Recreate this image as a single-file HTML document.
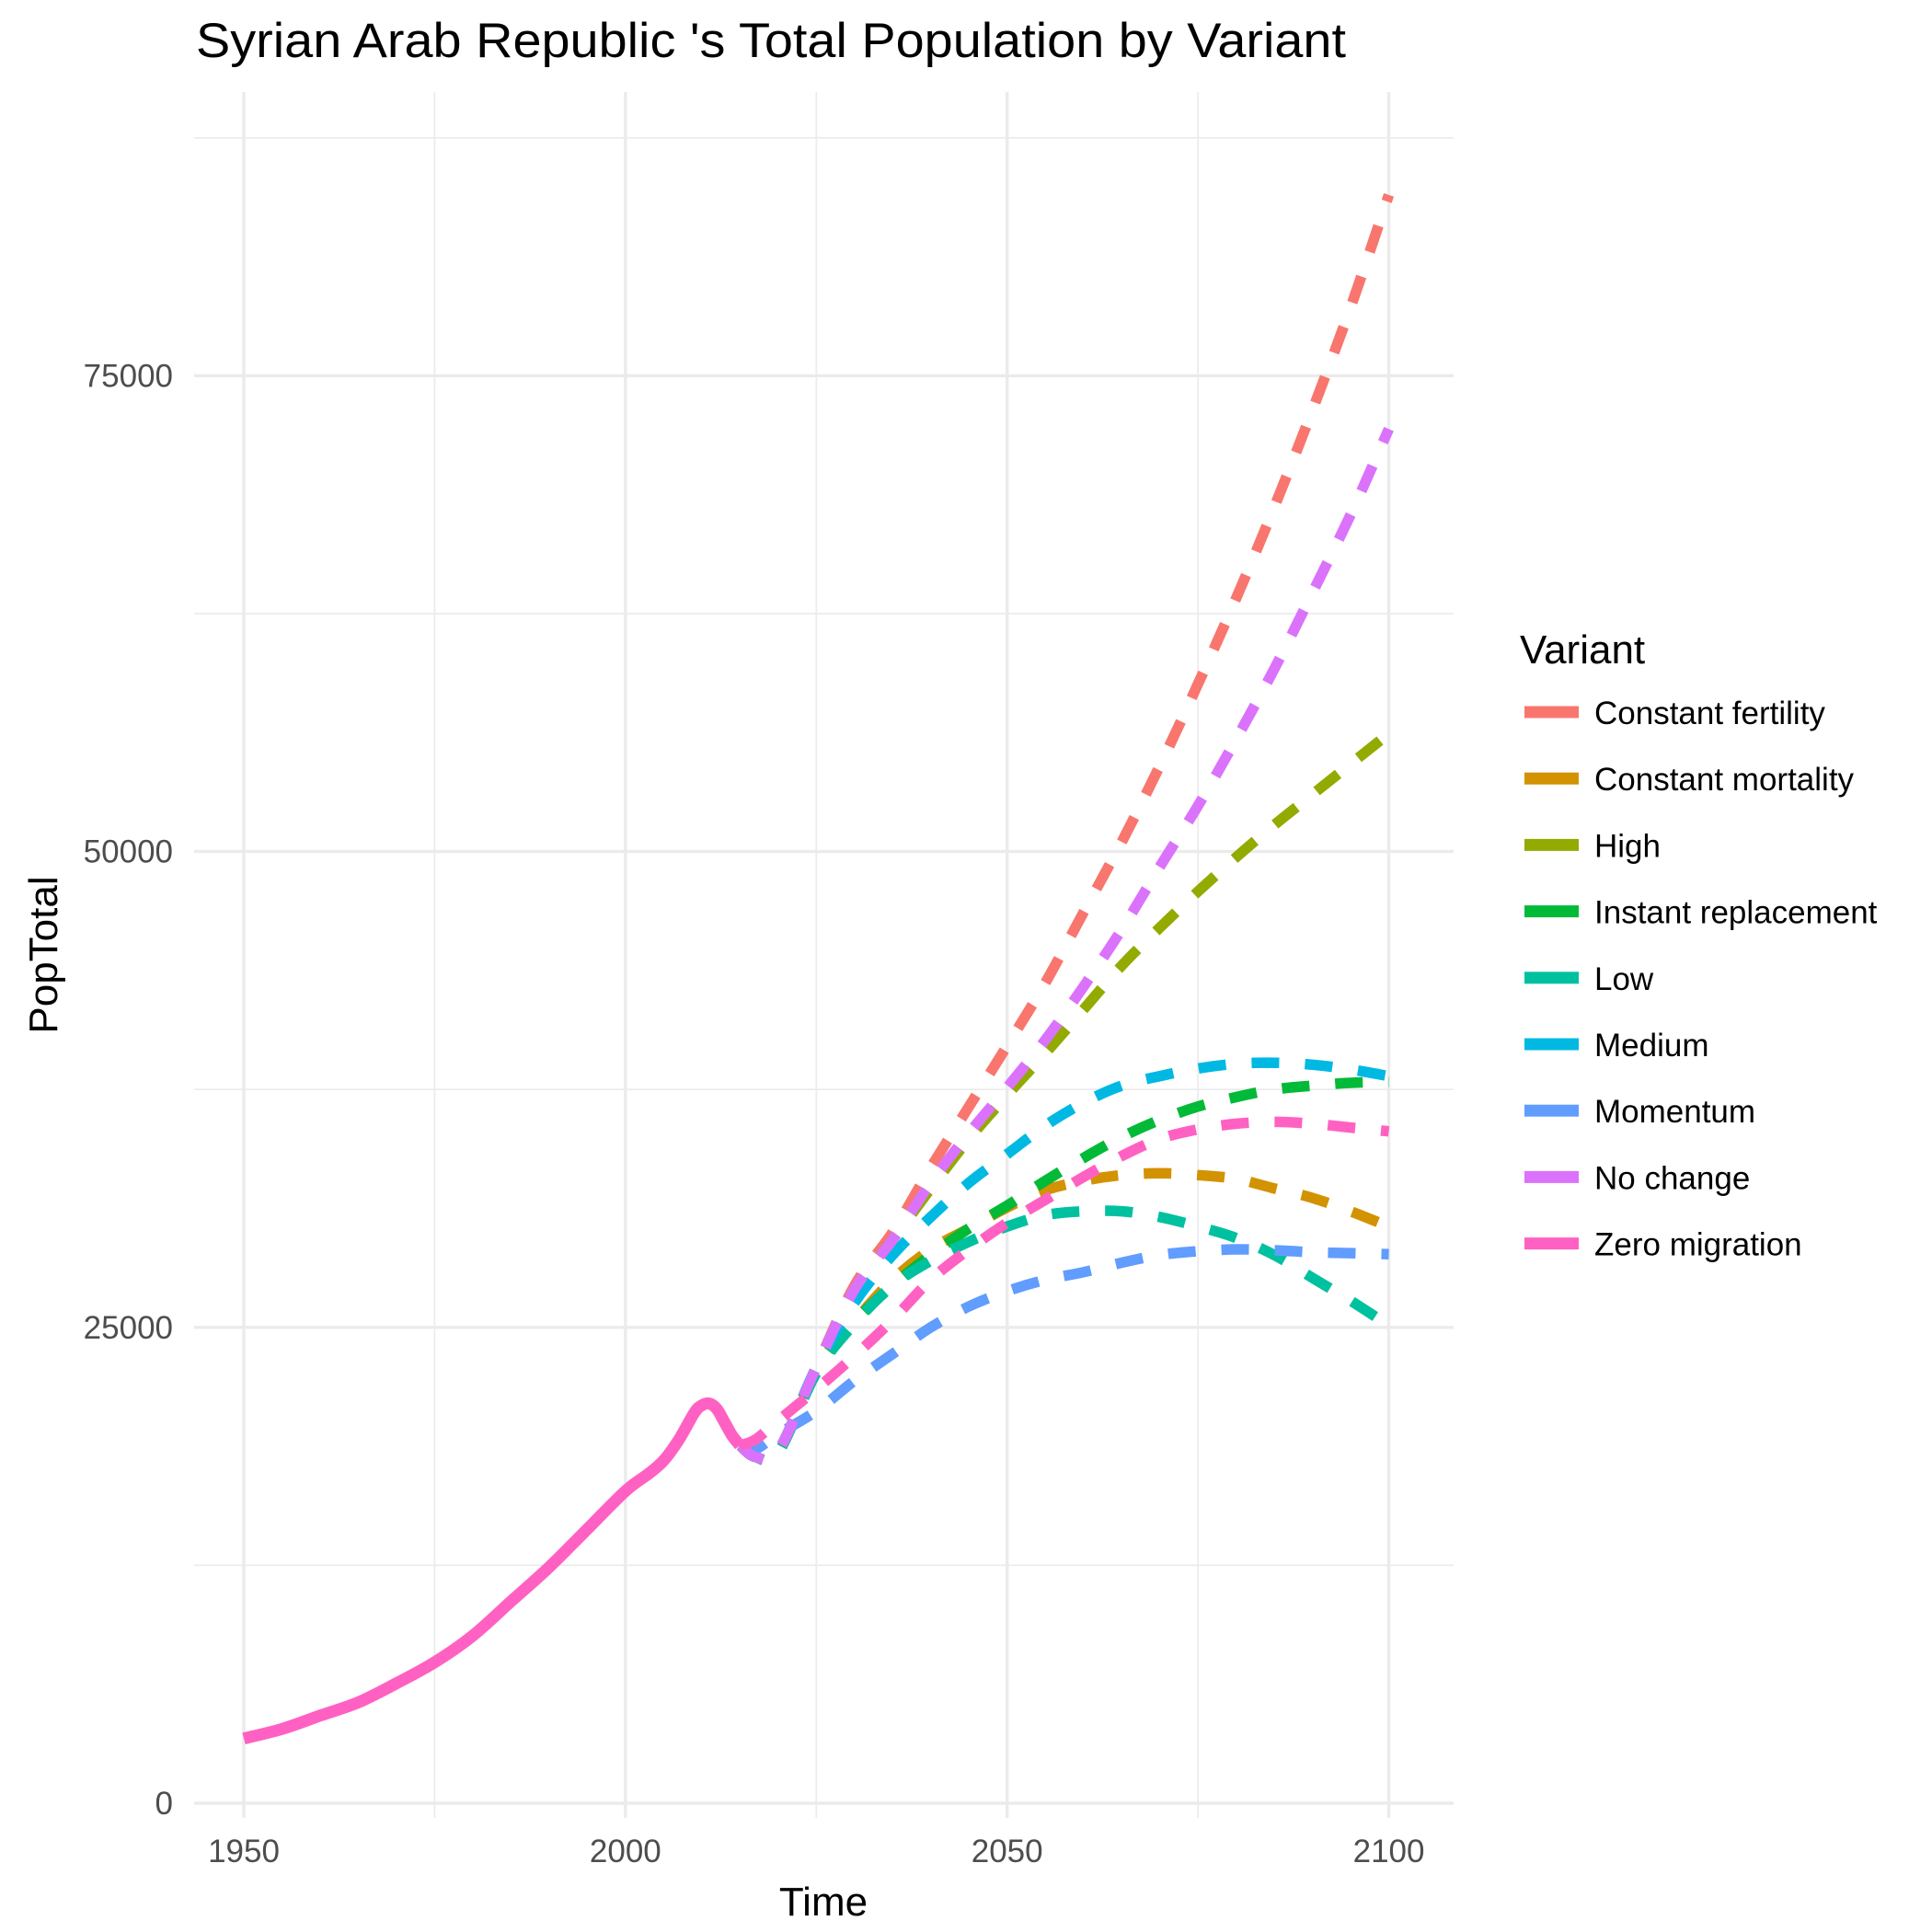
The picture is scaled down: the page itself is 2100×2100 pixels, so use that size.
<!DOCTYPE html>
<html><head><meta charset="utf-8"><style>
html,body{margin:0;padding:0;background:#fff}
svg{display:block;font-family:"Liberation Sans",Arial,sans-serif}
</style></head><body>
<svg id="chart" width="2100" height="2100" viewBox="0 0 2100 2100">
<rect x="0" y="0" width="2100" height="2100" fill="#fff"/>
<g id="grid"></g>
<g id="series"></g>
<g id="axes"></g>
<text x="213" y="62" font-size="53" fill="#000" textLength="1250" lengthAdjust="spacingAndGlyphs">Syrian Arab Republic 's Total Population by Variant</text>
<text x="895" y="2082" font-size="44" fill="#000" text-anchor="middle">Time</text>
<text x="0" y="0" font-size="44" fill="#000" text-anchor="middle" transform="translate(62,1038) rotate(-90)">PopTotal</text>
<g id="legend">
<text x="1652" y="721" font-size="44" fill="#000">Variant</text>
</g>
</svg>
<script>
const variants = ["Constant fertility","Constant mortality","High","Instant replacement","Low","Medium","Momentum","No change","Zero migration"];
const colors = ["#F8766D","#D39200","#93AA00","#00BA38","#00C19F","#00B9E3","#619CFF","#DB72FB","#FF61C3"];
const histYears = [1950,1955,1960,1965,1970,1975,1980,1985,1990,1995,2000,2003,2005,2007,2009,2010,2011,2012,2013,2014,2015];
const histValues = [3400,3900,4600,5300,6300,7400,8800,10600,12400,14400,16400,17300,18000,19100,20500,20900,21000,20700,20000,19300,18800];
const projYears = [2015,2017,2020,2025,2030,2035,2040,2045,2050,2055,2060,2065,2070,2075,2080,2085,2090,2095,2100];
const constantFertility = [18800,18200,18500,22900,27200,30000,33400,36600,39800,43100,46800,50500,54500,58800,63300,68100,73200,78600,84500];
const constantMortality = [18800,18200,18400,22700,25300,27500,29100,30200,31300,32200,32700,33000,33100,33000,32800,32300,31800,31100,30300];
const high = [18800,18200,18500,22900,27000,29600,32300,34900,37200,39400,41700,44000,46000,47900,49700,51400,53000,54600,56200];
const instantReplacement = [18800,18200,18400,22800,25300,27200,28800,30200,31400,32700,33900,35000,35900,36600,37100,37500,37700,37850,37900];
const low = [18800,18200,18400,22600,25200,27200,28500,29500,30300,30900,31100,31100,30800,30300,29700,28800,27600,26400,25100];
const medium = [18800,18200,18500,22900,26300,28800,30800,32600,34100,35600,36800,37700,38200,38600,38850,38900,38800,38550,38200];
const momentum = [18800,18600,19400,20600,22200,23600,25000,26100,26900,27500,27900,28400,28800,29000,29100,29050,28950,28900,28850];
const noChange = [18800,18200,18500,22900,27000,29600,32600,35200,37600,40100,42900,45900,49200,52400,55900,59600,63600,67700,72200];
const zeroMigration = [18800,19100,20100,21750,23500,25400,27500,29100,30500,31700,32900,34000,34900,35400,35700,35800,35700,35500,35300];
const yTicks = [0,25000,50000,75000];
const yMinor = [12500,37500,62500,87500];
const xTicks = [1950,2000,2050,2100];
const xMinor = [1975,2025,2075];

const seriesList = [constantFertility,constantMortality,high,instantReplacement,low,medium,momentum,noChange,zeroMigration];
const NS = "http://www.w3.org/2000/svg";
const PL = 211, PR = 1580, PT = 100, PB = 1976;
function xs(y){ return 265 + (y-1950)*8.297; }
function ys(v){ return 1960 - v/25000*517.2; }
function mk(tag, attrs, parent){ const e=document.createElementNS(NS,tag); for(const k in attrs) e.setAttribute(k,attrs[k]); parent.appendChild(e); return e; }
const grid=document.getElementById('grid'), series=document.getElementById('series'), axes=document.getElementById('axes'), legend=document.getElementById('legend');

yMinor.forEach(v=>{
  const l=mk('line',{x1:PL,x2:PR,y1:ys(v),y2:ys(v),stroke:'#EBEBEB','stroke-width':1.7},grid);
  
  
});
xMinor.forEach(v=>{
  const l=mk('line',{x1:xs(v),x2:xs(v),y1:PT,y2:PB,stroke:'#EBEBEB','stroke-width':1.7},grid);
  
  
});
yTicks.forEach(v=>{
  const l=mk('line',{x1:PL,x2:PR,y1:ys(v),y2:ys(v),stroke:'#EBEBEB','stroke-width':3.4},grid);
  
  
  const t=mk('text',{x:188,y:ys(v)+12,'font-size':35,fill:'#4D4D4D','text-anchor':'end'},axes);
  t.textContent=String(v);
  
  
});
xTicks.forEach(v=>{
  const l=mk('line',{x1:xs(v),x2:xs(v),y1:PT,y2:PB,stroke:'#EBEBEB','stroke-width':3.4},grid);
  
  
  const t=mk('text',{x:xs(v),y:2024,'font-size':35,fill:'#4D4D4D','text-anchor':'middle'},axes);
  t.textContent=String(v);
  
  
});

function pathOf(xsArr, vals){
  const p=xsArr.map((y,i)=>[xs(y),ys(vals[i])]);
  let d='M'+p[0][0].toFixed(1)+','+p[0][1].toFixed(1);
  for(let i=0;i<p.length-1;i++){
    const p0=p[Math.max(0,i-1)],p1=p[i],p2=p[i+1],p3=p[Math.min(p.length-1,i+2)];
    const c1=[p1[0]+(p2[0]-p0[0])/6,p1[1]+(p2[1]-p0[1])/6];
    const c2=[p2[0]-(p3[0]-p1[0])/6,p2[1]-(p3[1]-p1[1])/6];
    d+=' C'+c1[0].toFixed(1)+','+c1[1].toFixed(1)+' '+c2[0].toFixed(1)+','+c2[1].toFixed(1)+' '+p2[0].toFixed(1)+','+p2[1].toFixed(1);
  }
  return d;
}
seriesList.forEach((vals,i)=>{
  const p=mk('path',{d:pathOf(projYears,vals),fill:'none',stroke:colors[i],'stroke-width':11.5,'stroke-dasharray':'30 28'},series);
  
  
});
const h=mk('path',{d:pathOf(histYears,histValues),fill:'none',stroke:'#FF61C3','stroke-width':13,'stroke-linejoin':'round'},series);



variants.forEach((name,i)=>{
  const cy=774+i*72.2;
  const k=mk('rect',{x:1657,y:cy-6.5,width:59,height:13,fill:colors[i]},legend);
  
  
  const t=mk('text',{x:1733,y:cy+13,'font-size':35,fill:'#000'},legend);
  t.textContent=name;
  
  
});
</script>
</body></html>
